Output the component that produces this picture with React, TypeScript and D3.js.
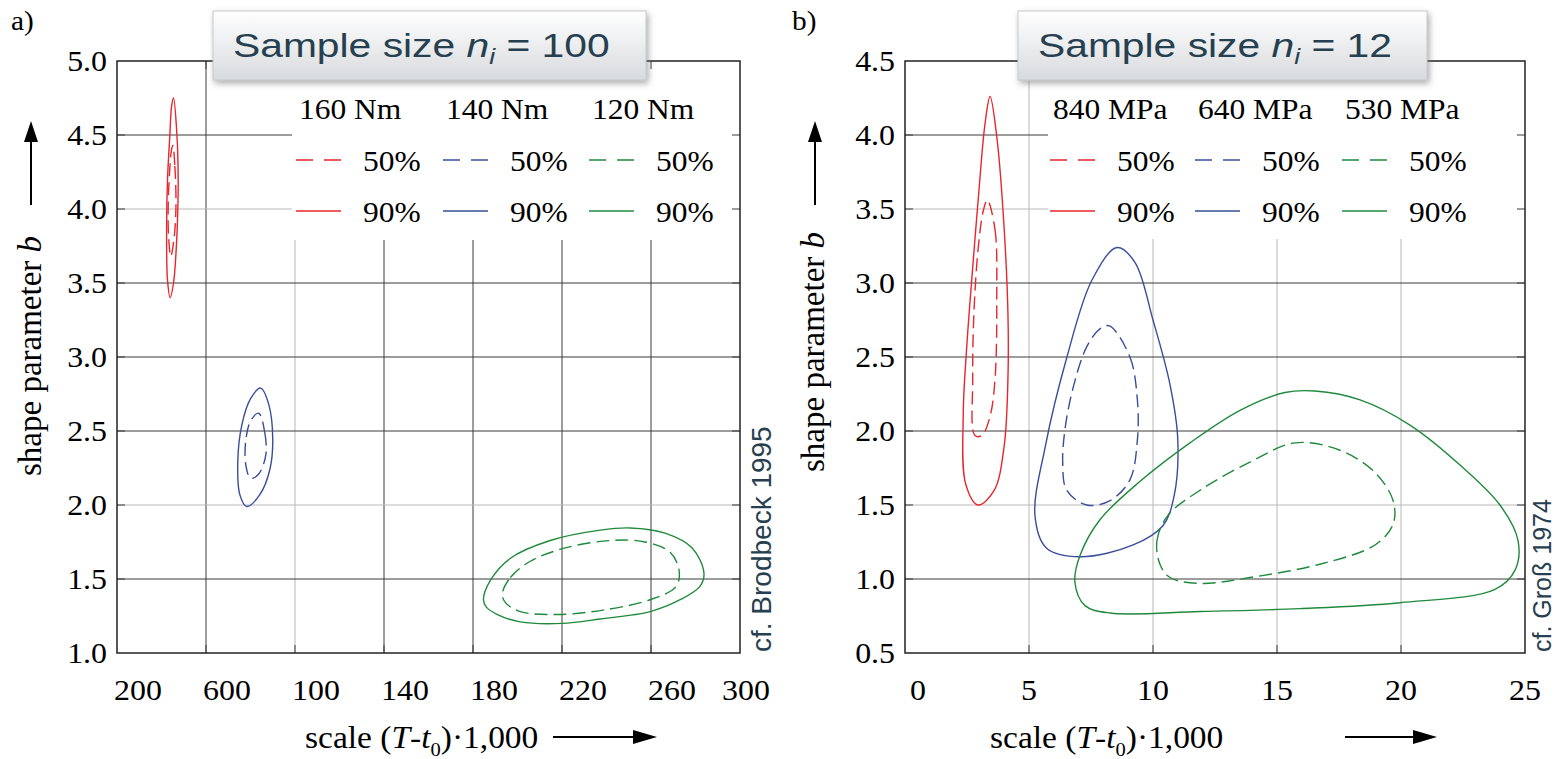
import React from 'react';
import * as d3 from 'd3';

type Pt = [number, number];

// ---------- panel a) : sample size 100 ----------
const a_x_ticks = [20, 60, 100, 140, 180, 220, 260, 300];
const a_x_tick_labels = ['200', '600', '100', '140', '180', '220', '260', '300'];
const a_y_ticks = [1.0, 1.5, 2.0, 2.5, 3.0, 3.5, 4.0, 4.5, 5.0];
const a_groups = ['160 Nm', '140 Nm', '120 Nm'];

const a_red_90: Pt[] = [
    [45.4, 4.75], [46.9, 4.51], [47.5, 4.2], [47.2, 3.93], [46.5, 3.7], [45.4, 3.5],
    [43.9, 3.4], [42.7, 3.52], [42.3, 3.86], [42.7, 4.2], [43.8, 4.51], [44.5, 4.69],
];
const a_red_50: Pt[] = [
    [45.1, 4.43], [46.0, 4.29], [46.5, 4.02], [45.7, 3.81], [44.2, 3.68],
    [43.2, 3.81], [43.0, 4.02], [43.8, 4.29], [44.5, 4.4],
];
const a_blue_90: Pt[] = [
    [84.6, 2.79], [88.2, 2.68], [90.0, 2.44], [88.7, 2.24], [84.2, 2.07], [78.3, 1.99],
    [75.2, 2.07], [74.3, 2.3], [76.1, 2.54], [80.1, 2.72],
];
const a_blue_50: Pt[] = [
    [83.7, 2.62], [86.4, 2.49], [86.9, 2.34], [83.7, 2.21], [80.1, 2.18],
    [77.9, 2.27], [77.9, 2.44], [80.1, 2.57],
];
const a_green_90: Pt[] = [
    [184.7, 1.36], [187.8, 1.49], [196.8, 1.64], [214.7, 1.76], [237.2, 1.83], [250.6, 1.845],
    [266.3, 1.81], [278.5, 1.71], [283.8, 1.54], [282.0, 1.45], [273.1, 1.36], [259.6, 1.28],
    [237.2, 1.23], [220.1, 1.2], [201.3, 1.21], [191.0, 1.26], [186.0, 1.31],
];
const a_green_50: Pt[] = [
    [193.2, 1.4], [196.8, 1.51], [205.8, 1.62], [221.5, 1.71], [241.7, 1.76], [257.4, 1.75],
    [268.6, 1.68], [272.6, 1.56], [271.3, 1.45], [259.6, 1.36], [238.5, 1.29], [217.9, 1.26],
    [201.3, 1.28], [194.6, 1.34],
];

// ---------- panel b) : sample size 12 ----------
const b_x_ticks = [0, 5, 10, 15, 20, 25];
const b_x_tick_labels = ['0', '5', '10', '15', '20', '25'];
const b_y_ticks = [0.5, 1.0, 1.5, 2.0, 2.5, 3.0, 3.5, 4.0, 4.5];
const b_groups = ['840 MPa', '640 MPa', '530 MPa'];

const b_red_90: Pt[] = [
    [3.43, 4.26], [3.7, 3.99], [3.96, 3.47], [4.15, 2.8], [4.15, 2.35], [4.0, 1.9],
    [3.6, 1.6], [2.95, 1.5], [2.45, 1.64], [2.35, 2.12], [2.49, 2.57], [2.69, 3.02],
    [2.96, 3.58], [3.23, 4.08],
];
const b_red_50: Pt[] = [
    [3.32, 3.56], [3.63, 3.36], [3.7, 2.91], [3.63, 2.35], [3.43, 2.1], [3.1, 1.97],
    [2.82, 1.97], [2.73, 2.35], [2.78, 2.8], [2.96, 3.25], [3.16, 3.49],
];
const b_blue_90: Pt[] = [
    [8.55, 3.24], [9.27, 3.14], [10.0, 2.75], [10.69, 2.31], [11.0, 1.94], [10.85, 1.56],
    [10.4, 1.36], [9.2, 1.23], [7.06, 1.15], [5.7, 1.21], [5.24, 1.43], [5.65, 1.89],
    [6.53, 2.5], [7.54, 3.02],
];
const b_blue_50: Pt[] = [
    [8.24, 2.71], [9.07, 2.5], [9.37, 2.21], [9.37, 1.94], [9.07, 1.67], [8.27, 1.53],
    [7.33, 1.5], [6.52, 1.6], [6.36, 1.78], [6.45, 2.01], [6.79, 2.3], [7.33, 2.57], [7.86, 2.69],
];
const b_green_90: Pt[] = [
    [6.85, 0.98], [7.06, 1.16], [7.86, 1.4], [9.48, 1.66], [11.49, 1.92], [13.51, 2.14],
    [15.32, 2.26], [16.53, 2.27], [18.35, 2.21], [20.36, 2.04], [22.38, 1.77], [23.99, 1.5],
    [24.72, 1.26], [24.6, 1.06], [23.79, 0.93], [19.96, 0.84], [15.93, 0.8], [11.9, 0.78],
    [8.27, 0.77], [7.26, 0.82],
];
const b_green_50: Pt[] = [
    [10.28, 1.1], [10.16, 1.26], [10.6, 1.43], [11.9, 1.6], [13.91, 1.79], [15.73, 1.92],
    [17.54, 1.87], [18.95, 1.72], [19.68, 1.53], [19.68, 1.37], [18.95, 1.23], [16.73, 1.1],
    [13.91, 1.01], [11.9, 0.97], [10.69, 1.01],
];

const levels = ['50%', '90%'];
const colors = ['#e8262e', '#3a4d9a', '#208a3c'];

const serif = 'Liberation Serif';
const sans = 'Liberation Sans';
const slate = '#27404f';

function T({ x, y, sx = 1.1, anchor = 'start', size = 29, family = serif, fill = '#000', children }: any) {
    return (
        <text
            transform={`translate(${x},${y}) scale(${sx},1)`}
            textAnchor={anchor}
            fontFamily={family}
            fontSize={size}
            fill={fill}
        >
            {children}
        </text>
    );
}

function Panel({ cfg }: any) {
    const x = d3.scaleLinear(cfg.x_domain, [cfg.left, cfg.right]);
    const y = d3.scaleLinear(cfg.y_domain, [cfg.bottom, cfg.top]);
    const line = d3
        .line<Pt>()
        .x((d) => x(d[0]))
        .y((d) => y(d[1]))
        .curve(d3.curveCatmullRomClosed.alpha(0.5));

    const inner_x = cfg.x_ticks.slice(1, -1);
    const inner_y = cfg.y_ticks.slice(1, -1);
    const lg = cfg.legend;

    return (
        <g>
            {/* grid */}
            {inner_x.map((t: number) => (
                <line key={'gx' + t} x1={x(t)} x2={x(t)} y1={cfg.top} y2={cfg.bottom}
                    stroke={cfg.light_x.includes(t) ? '#b8b8b8' : '#3a3a3a'} strokeWidth={1} />
            ))}
            {inner_y.map((t: number) => (
                <line key={'gy' + t} x1={cfg.left} x2={cfg.right} y1={y(t)} y2={y(t)}
                    stroke={cfg.light_y.includes(t) ? '#b8b8b8' : '#3a3a3a'} strokeWidth={1} />
            ))}

            {/* legend background */}
            <rect x={lg.bg_x} y={cfg.top} width={cfg.right - lg.bg_x} height={lg.bg_bottom - cfg.top} fill="#fff" />

            {/* inner ticks */}
            {inner_x.map((t: number) => (
                <g key={'tx' + t}>
                    <line x1={x(t)} x2={x(t)} y1={cfg.top} y2={cfg.top + 8} stroke="#3a3a3a" />
                    <line x1={x(t)} x2={x(t)} y1={cfg.bottom} y2={cfg.bottom - 8} stroke="#3a3a3a" />
                </g>
            ))}
            {inner_y.map((t: number) => (
                <g key={'ty' + t}>
                    <line x1={cfg.left} x2={cfg.left + 8} y1={y(t)} y2={y(t)} stroke="#3a3a3a" />
                    <line x1={cfg.right} x2={cfg.right - 8} y1={y(t)} y2={y(t)} stroke="#3a3a3a" />
                </g>
            ))}

            {/* contours */}
            {cfg.contours.map((c: any, i: number) => (
                <g key={'c' + i}>
                    <path d={line(c[1]) || ''} fill="none" stroke={colors[i]} strokeWidth={1.4} />
                    <path d={line(c[0]) || ''} fill="none" stroke={colors[i]} strokeWidth={1.4} strokeDasharray="13,6" />
                </g>
            ))}

            {/* legend */}
            {cfg.groups.map((g: string, i: number) => (
                <g key={'lg' + i}>
                    <T x={lg.col_x[i] + 3} y={lg.header_y} size={30} sx={1.05}>{g}</T>
                    {levels.map((lv, j) => (
                        <g key={lv}>
                            <line x1={lg.col_x[i]} x2={lg.col_x[i] + 45} y1={lg.row_y[j]} y2={lg.row_y[j]}
                                stroke={colors[i]} strokeWidth={1.6} strokeDasharray={j === 0 ? '17,11' : undefined} />
                            <T x={lg.col_x[i] + 67} y={lg.row_y[j] + 11} size={30} sx={1.05}>{lv}</T>
                        </g>
                    ))}
                </g>
            ))}

            {/* frame */}
            <rect x={cfg.left} y={cfg.top} width={cfg.right - cfg.left} height={cfg.bottom - cfg.top}
                fill="none" stroke="#222" strokeWidth={1.5} />

            {/* tick labels */}
            {cfg.y_ticks.map((t: number) => (
                <T key={'yl' + t} x={cfg.left - 10} y={y(t) + 10} anchor="end">{t.toFixed(1)}</T>
            ))}
            {cfg.x_ticks.map((t: number, i: number) => (
                <T key={'xl' + t} x={Math.min(Math.max(x(t) + cfg.x_label_dx, cfg.left + 13), cfg.right + 6)}
                    y={cfg.bottom + 47} anchor="middle">{cfg.x_tick_labels[i]}</T>
            ))}

            {/* axis titles */}
            <text transform={`translate(${cfg.ylab_x},${cfg.ylab_y}) rotate(-90)`} fontFamily={serif} fontSize={33}>
                shape parameter <tspan fontStyle="italic">b</tspan>
            </text>
            <line x1={cfg.yarrow_x} x2={cfg.yarrow_x} y1={205} y2={138} stroke="#000" strokeWidth={2} />
            <path d={`M${cfg.yarrow_x},121 L${cfg.yarrow_x - 7},142 L${cfg.yarrow_x + 7},142 Z`} fill="#000" />

            <T x={cfg.xlab_x} y={748} size={31} sx={1.08}>
                scale (<tspan fontStyle="italic">T</tspan>-<tspan fontStyle="italic">t</tspan>
                <tspan fontSize={19} dy={8}>0</tspan><tspan dy={-8}>)·1,000</tspan>
            </T>
            <line x1={cfg.xarrow[0]} x2={cfg.xarrow[1] - 18} y1={737} y2={737} stroke="#000" strokeWidth={2} />
            <path d={`M${cfg.xarrow[1]},737 L${cfg.xarrow[1] - 24},730 L${cfg.xarrow[1] - 24},744 Z`} fill="#000" />

            {/* source note */}
            <text transform={`translate(${cfg.note_x},652) rotate(-90)`} fontFamily={sans} fontSize={cfg.note_size} fill={slate}>
                {cfg.note}
            </text>

            {/* panel tag */}
            <T x={cfg.tag_x} y={30} size={28} sx={1.05}>{cfg.tag}</T>

            {/* title box */}
            <rect x={cfg.box[0]} y={cfg.box[1]} width={cfg.box[2]} height={cfg.box[3]}
                fill="url(#boxgrad)" stroke="#c9c9c9" strokeWidth={1} filter="url(#shadow)" />
            <T x={cfg.box[0] + 20} y={57} size={34} sx={1.2} family={sans} fill={slate}>
                Sample size <tspan fontStyle="italic">n</tspan>
                <tspan fontStyle="italic" fontSize={22} dy={7}>i</tspan>
                <tspan dy={-7}> = {cfg.n}</tspan>
            </T>
        </g>
    );
}

const panel_a = {
    x_domain: [20, 300], y_domain: [1.0, 5.0],
    left: 117, right: 740, top: 61, bottom: 653,
    x_ticks: a_x_ticks, x_tick_labels: a_x_tick_labels, y_ticks: a_y_ticks, x_label_dx: 21,
    light_x: [100], light_y: [4.0, 2.0],
    groups: a_groups,
    contours: [[a_red_50, a_red_90], [a_blue_50, a_blue_90], [a_green_50, a_green_90]],
    legend: { bg_x: 292, bg_bottom: 240, col_x: [296, 443, 589], header_y: 119, row_y: [160, 211] },
    ylab_x: 41, ylab_y: 476, yarrow_x: 31,
    xlab_x: 305, xarrow: [553, 657],
    note: 'cf. Brodbeck 1995', note_x: 771, note_size: 28,
    tag: 'a)', tag_x: 11,
    box: [213, 11, 433, 69], n: '100',
};

const panel_b = {
    x_domain: [0, 25], y_domain: [0.5, 4.5],
    left: 905, right: 1525, top: 61, bottom: 653,
    x_ticks: b_x_ticks, x_tick_labels: b_x_tick_labels, y_ticks: b_y_ticks, x_label_dx: 0,
    light_x: [5, 10, 15, 20], light_y: [3.5, 1.5],
    groups: b_groups,
    contours: [[b_red_50, b_red_90], [b_blue_50, b_blue_90], [b_green_50, b_green_90]],
    legend: { bg_x: 1048, bg_bottom: 239, col_x: [1050, 1195, 1342], header_y: 119, row_y: [160, 211] },
    ylab_x: 824, ylab_y: 472, yarrow_x: 815,
    xlab_x: 990, xarrow: [1345, 1437],
    note: 'cf. Groß 1974', note_x: 1551, note_size: 25,
    tag: 'b)', tag_x: 792,
    box: [1018, 11, 409, 69], n: '12',
};

export default function App() {
    return (
        <svg width={1559} height={759} style={{ position: 'absolute', left: 0, top: 0, background: '#fff' }}>
            <defs>
                <linearGradient id="boxgrad" x1="0" y1="0" x2="0" y2="1">
                    <stop offset="0" stopColor="#ffffff" />
                    <stop offset="1" stopColor="#d8dbde" />
                </linearGradient>
                <filter id="shadow" x="-10%" y="-20%" width="130%" height="160%">
                    <feDropShadow dx="2" dy="3" stdDeviation="3" floodColor="#777" floodOpacity="0.6" />
                </filter>
            </defs>
            <rect width={1559} height={759} fill="#fff" />
            <Panel cfg={panel_a} />
            <Panel cfg={panel_b} />
        </svg>
    );
}
